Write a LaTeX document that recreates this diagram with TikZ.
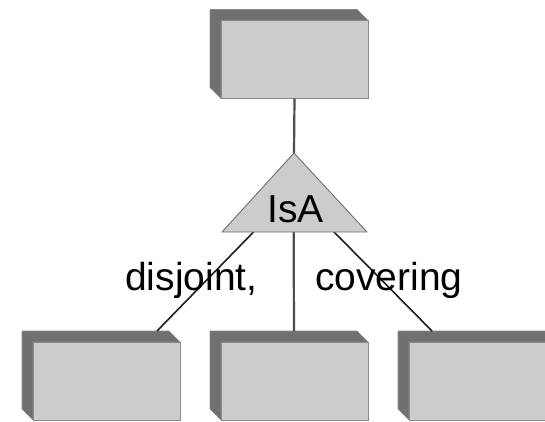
\documentclass[tikz,border=0pt]{standalone}
\usepackage{fontspec}
\setmainfont{Liberation Sans}
\definecolor{facegray}{HTML}{CCCCCC}
\definecolor{sidegray}{HTML}{707070}
\definecolor{edgegray}{HTML}{8A8A8A}
\definecolor{vlinegray}{HTML}{4D4D4D}
\definecolor{dlinegray}{HTML}{1E1E1E}
\begin{document}
\begin{tikzpicture}[x=1pt,y=-1pt,
  frontbox/.style={draw=edgegray,line width=0.8pt,fill=facegray,minimum width=147pt,minimum height=78pt,inner sep=0pt,outer sep=0pt},
  sideface/.style={fill=sidegray,draw=edgegray,line width=0.6pt,line join=round},
  vconn/.style={draw=vlinegray,line width=2.2pt},
  dconn/.style={draw=dlinegray,line width=1.6pt},
  lbl/.style={inner sep=0pt,anchor=base west,font=\fontsize{39}{44}\selectfont},
  isatext/.style={inner sep=0pt,anchor=base,font=\fontsize{39}{44}\selectfont}]
\useasboundingbox (0,0) rectangle (545,422);
\clip (0,0) rectangle (545,422);
% hub and end points
\coordinate (hub) at (293.5,191);
\coordinate (apex) at (294,153);
\coordinate (bl) at (222,232);
\coordinate (br) at (367,232);
\coordinate (e1) at (157,331);
\coordinate (e2) at (294,331);
\coordinate (e3) at (432,331);
% boxes (front faces)
\node[frontbox] (top) at (294.5,59.5) {};
\node[frontbox] (b1) at (106.5,381) {};
\node[frontbox] (b2) at (294.5,381) {};
\node[frontbox] (b3) at (482.5,381) {};
% extrusions
\foreach \n in {top,b1,b2,b3}{
  \path[sideface] (\n.south west) -- ([shift={(-11,-11)}]\n.south west)
    -- ([shift={(-11,-11)}]\n.north west) -- ([shift={(-11,-11)}]\n.north east)
    -- (\n.north east) -- (\n.north west) -- cycle;
  \draw[edgegray,line width=0.8pt] (\n.south west) rectangle (\n.north east);
}
% connectors
\draw[vconn] (top.south) -- (apex);
\draw[dconn] (hub) -- (e1);
\draw[vconn] (hub) -- (e2);
\draw[dconn] (hub) -- (e3);
% triangle
\filldraw[fill=facegray,draw=sidegray,line width=0.9pt,line join=round] (apex) -- (br) -- (bl) -- cycle;
\node[isatext] (isa) at (295.5,222) {IsA};
% labels
\node[lbl] (ldis) at (125,290) {disjoint,};
\node[lbl] (lcov) at (315,290) {covering};
\end{tikzpicture}
\end{document}
